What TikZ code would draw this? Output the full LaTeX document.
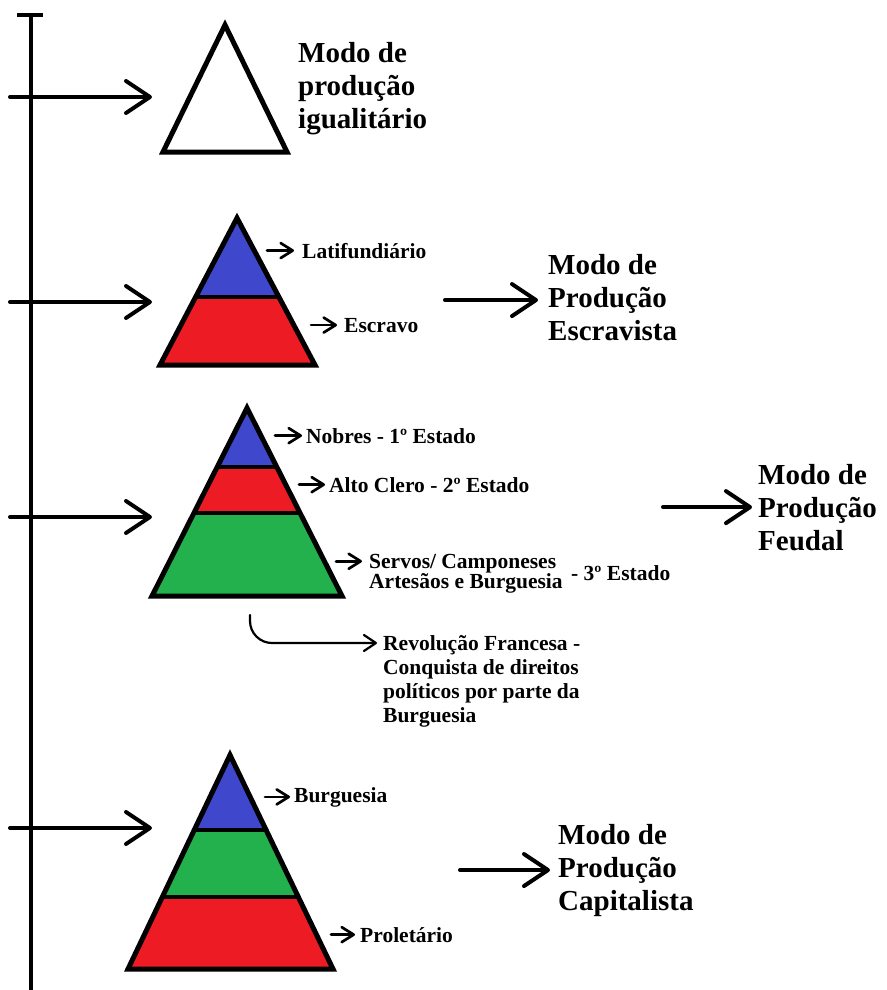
\documentclass[tikz,border=0pt]{standalone}
\usepackage{fontspec}
\setmainfont{Liberation Serif}
\usetikzlibrary{arrows.meta}

\definecolor{topblue}{HTML}{3F48CC}
\definecolor{midred}{HTML}{ED1C24}
\definecolor{lowgreen}{HTML}{22B14C}

\begin{document}
\begin{tikzpicture}[x=1pt, y=-1pt,
    modo/.style={font=\fontsize{29}{33}\selectfont\bfseries, align=left, anchor=base west, inner sep=0pt},
    cls/.style={font=\fontsize{21.5}{24}\selectfont\bfseries, align=left, anchor=base west, inner sep=0pt},
    pyr/.style={draw=black, line width=5pt},
    band/.style={draw=black, line width=4pt},
    arr/.style={-{Straight Barb[length=24pt, width=32pt, round]}, line width=4pt, line cap=round},
    sarr/.style={-{Straight Barb[length=12pt, width=15pt, round]}, line width=2.7pt, line cap=round},
    rarr/.style={-{Straight Barb[length=12pt, width=16pt, round]}, line width=2.2pt, line cap=round, rounded corners=22pt}
  ]
  \useasboundingbox (0,0) rectangle (886,990);

  % linha do tempo
  \draw[line width=4pt] (31,990) -- (31,15);
  \draw[line width=4pt] (17,15) -- (43,15);
  \coordinate (lvl1) at (152,97);
  \coordinate (lvl2) at (152,302);
  \coordinate (lvl3) at (152,517);
  \coordinate (lvl4) at (152,828);
  \draw[arr] ([xshift=-142pt]lvl1) -- (lvl1);
  \draw[arr] ([xshift=-142pt]lvl2) -- (lvl2);
  \draw[arr] ([xshift=-142pt]lvl3) -- (lvl3);
  \draw[arr] ([xshift=-142pt]lvl4) -- (lvl4);

  % piramide 1
  \draw[pyr, fill=white] (225,25) -- (163,152) -- (287,152) -- cycle;
  \node[modo] (igual) at (298,128) {Modo de\\produção\\igualitário};

  % piramide 2
  \begin{scope}
    \clip (237,218) -- (160,365) -- (315,365) -- cycle;
    \fill[topblue] (150,218) rectangle (330,297);
    \fill[midred] (150,297) rectangle (330,365);
    \draw[band] (150,297) -- (330,297);
  \end{scope}
  \draw[pyr] (237,218) -- (160,365) -- (315,365) -- cycle;
  \node[cls] (lati) at (302,258) {Latifundiário};
  \node[cls] (escv) at (344,332) {Escravo};
  \draw[sarr] ([xshift=-35pt]lati.west) -- ([xshift=-8pt]lati.west);
  \draw[sarr] ([xshift=-33pt]escv.west) -- ([xshift=-7pt]escv.west);
  \node[modo] (escr) at (548,340) {Modo de\\Produção\\Escravista};
  \draw[arr] ([xshift=-103pt, yshift=-3pt]escr.west) -- ([xshift=-10pt, yshift=-3pt]escr.west);

  % piramide 3
  \begin{scope}
    \clip (247,408) -- (152,596) -- (342,596) -- cycle;
    \fill[topblue] (140,408) rectangle (350,467);
    \fill[midred] (140,467) rectangle (350,513);
    \fill[lowgreen] (140,513) rectangle (350,596);
    \draw[band] (140,467) -- (350,467);
    \draw[band] (140,513) -- (350,513);
  \end{scope}
  \draw[pyr] (247,408) -- (152,596) -- (342,596) -- cycle;
  \node[cls] (nobr) at (306,443) {Nobres - 1º Estado};
  \node[cls] (clero) at (329,492) {Alto Clero - 2º Estado};
  \node[cls, font=\fontsize{21.5}{20}\selectfont\bfseries] (serv) at (369,588) {Servos/ Camponeses\\Artesãos e Burguesia};
  \node[cls] (terc) at (571,580) {- 3º Estado};
  \draw[sarr] ([xshift=-31pt]nobr.west) -- ([xshift=-4pt]nobr.west);
  \draw[sarr] ([xshift=-30pt]clero.west) -- ([xshift=-4pt]clero.west);
  \draw[sarr] ([xshift=-33pt, yshift=12pt]serv.west) -- ([xshift=-7pt, yshift=12pt]serv.west);
  \node[modo] (feud) at (758,550) {Modo de\\Produção\\Feudal};
  \draw[arr] ([xshift=-95pt]feud.west) -- ([xshift=-6pt]feud.west);

  % revolucao
  \node[cls] (revo) at (383,722) {Revolução Francesa -\\Conquista de direitos\\políticos por parte da\\Burguesia};
  \coordinate (revfrom) at (250,615);
  \coordinate (revto) at ([xshift=-6pt, yshift=79pt]revo.base west);
  \draw[rarr] (revfrom) |- (revto);

  % piramide 4
  \begin{scope}
    \clip (230,755) -- (128,969) -- (333,969) -- cycle;
    \fill[topblue] (120,755) rectangle (340,830);
    \fill[lowgreen] (120,830) rectangle (340,897);
    \fill[midred] (120,897) rectangle (340,969);
    \draw[band] (120,830) -- (340,830);
    \draw[band] (120,897) -- (340,897);
  \end{scope}
  \draw[pyr] (230,755) -- (128,969) -- (333,969) -- cycle;
  \node[cls] (burg) at (294,802) {Burguesia};
  \node[cls] (prol) at (360,942) {Proletário};
  \draw[sarr] ([xshift=-29pt]burg.west) -- ([xshift=-4pt]burg.west);
  \draw[sarr] ([xshift=-29pt]prol.west) -- ([xshift=-5pt]prol.west);
  \node[modo] (capi) at (558,910) {Modo de\\Produção\\Capitalista};
  \draw[arr] ([xshift=-98pt]capi.west) -- ([xshift=-8pt]capi.west);
\end{tikzpicture}
\end{document}
